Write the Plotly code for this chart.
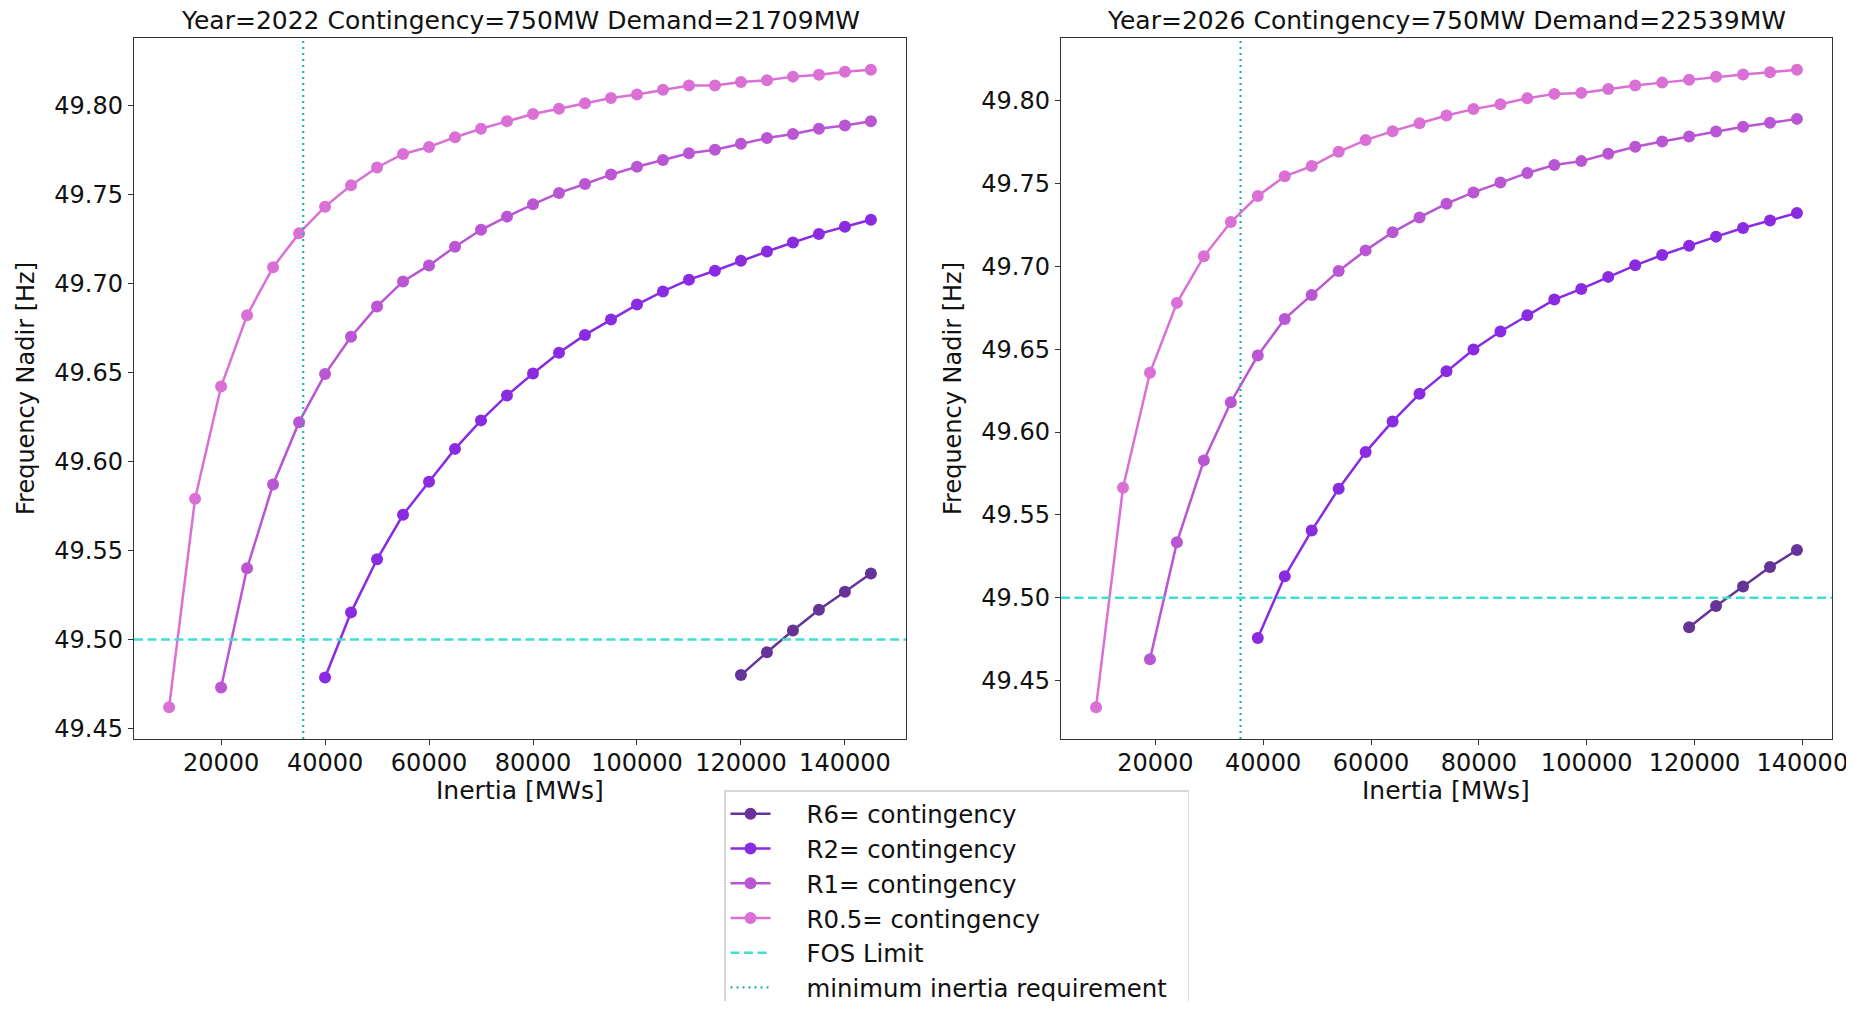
import plotly.graph_objects as go

# ---------------- data ----------------
inertia_2022 = [10000, 15000, 20000, 25000, 30000, 35000, 40000, 45000, 50000, 55000,
                60000, 65000, 70000, 75000, 80000, 85000, 90000, 95000, 100000, 105000,
                110000, 115000, 120000, 125000, 130000, 135000, 140000, 145000]
r05_2022 = [49.462, 49.579, 49.642, 49.682, 49.709, 49.728, 49.743, 49.755, 49.765, 49.7726,
            49.7765, 49.782, 49.7867, 49.791, 49.795, 49.798, 49.801, 49.804, 49.806, 49.8086,
            49.811, 49.811, 49.813, 49.814, 49.816, 49.817, 49.8187, 49.8198]
r1_2022 = [49.473, 49.540, 49.587, 49.622, 49.649, 49.670, 49.687, 49.701, 49.710, 49.7205,
           49.730, 49.7374, 49.7443, 49.7507, 49.7557, 49.761, 49.7654, 49.7692, 49.773, 49.775,
           49.7783, 49.7815, 49.7838, 49.7867, 49.7886, 49.791]
r2_2022 = [49.4786, 49.5152, 49.545, 49.570, 49.5886, 49.607, 49.623, 49.637, 49.6493, 49.661,
           49.671, 49.6796, 49.688, 49.6954, 49.702, 49.707, 49.7126, 49.7178, 49.7229, 49.7277,
           49.7317, 49.7356]
r6_2022 = [49.480, 49.4928, 49.505, 49.5167, 49.5268, 49.537]

inertia_2026 = [9000, 14000, 19000, 24000, 29000, 34000, 39000, 44000, 49000, 54000,
                59000, 64000, 69000, 74000, 79000, 84000, 89000, 94000, 99000, 104000,
                109000, 114000, 119000, 124000, 129000, 134000, 139000]
r05_2026 = [49.4339, 49.5664, 49.6358, 49.678, 49.7061, 49.7268, 49.7425, 49.7544, 49.7606, 49.7692,
            49.7763, 49.7817, 49.7865, 49.7911, 49.795, 49.798, 49.8016, 49.8042, 49.8048, 49.8072,
            49.8092, 49.811, 49.8127, 49.8145, 49.8159, 49.8173, 49.8187]
r1_2026 = [49.4628, 49.5334, 49.5829, 49.618, 49.6462, 49.6683, 49.6828, 49.6973, 49.7097, 49.7206,
           49.7296, 49.7379, 49.7447, 49.7507, 49.7564, 49.7612, 49.7636, 49.768, 49.7723, 49.7755,
           49.7785, 49.7815, 49.7843, 49.7867, 49.7891]
r2_2026 = [49.4757, 49.5129, 49.5405, 49.5658, 49.5879, 49.6064, 49.6231, 49.6367, 49.6498, 49.6607,
           49.6705, 49.68, 49.6864, 49.6937, 49.7007, 49.7069, 49.7125, 49.718, 49.7232, 49.7278,
           49.7323]
r6_2026 = [49.4821, 49.495, 49.5067, 49.5185, 49.5288]

fos_limit = 49.5
min_inertia = 35800

titles = ["Year=2022 Contingency=750MW Demand=21709MW",
          "Year=2026 Contingency=750MW Demand=22539MW"]
series_names = ["R6= contingency", "R2= contingency", "R1= contingency", "R0.5= contingency"]
line_names = ["FOS Limit", "minimum inertia requirement"]
colors = ["#663399", "#8A2BE2", "#BA55D3", "#DA70D6"]
x_ticks = [20000, 40000, 60000, 80000, 100000, 120000, 140000]
y_ticks = [49.45, 49.50, 49.55, 49.60, 49.65, 49.70, 49.75, 49.80]

# ---------------- figure ----------------
# the page body keeps its default 8px margin, so the figure is sized to fill the window exactly
OFF = 8
W, H = 1854 - 2 * OFF, 1009 - 2 * OFF
FONT = "DejaVu Sans"
PAD = "\u00a0\u00a0\u00a0\u00a0"
TAIL = "\u00a0\u00a0"


def px_x(p):
    return (p - OFF) / W


def px_y(p):
    return 1 - (p - OFF) / H


fig = go.Figure()

panels = [
    (inertia_2022, [r6_2022, r2_2022, r1_2022, r05_2022], "x", "y"),
    (inertia_2026, [r6_2026, r2_2026, r1_2026, r05_2026], "x2", "y2"),
]
ranges = []
for pi, (xs, ys_list, xa, ya) in enumerate(panels):
    allx, ally = [], []
    for si, ys in enumerate(ys_list):
        xx = xs[len(xs) - len(ys):]
        allx += xx
        ally += ys
        fig.add_trace(go.Scatter(
            x=xx, y=ys, mode="lines+markers", name=PAD + series_names[si],
            line=dict(color=colors[si], width=2.5),
            marker=dict(color=colors[si], size=12),
            xaxis=xa, yaxis=ya, showlegend=(pi == 0)))
    xmn, xmx = min(allx), max(allx)
    ymn, ymx = min(ally), max(ally)
    dx, dy = (xmx - xmn) * 0.05, (ymx - ymn) * 0.05
    ranges.append(([xmn - dx, xmx + dx], [ymn - dy, ymx + dy]))
    fig.add_shape(type="line", xref=xa + " domain", yref=ya, x0=0, x1=1,
                  y0=fos_limit, y1=fos_limit,
                  line=dict(color="#40E0D0", width=2.5, dash="9px,4.5px"))
    fig.add_shape(type="line", xref=xa, yref=ya + " domain", x0=min_inertia, x1=min_inertia,
                  y0=0, y1=1, line=dict(color="#20B2AA", width=2.2, dash="2px,4px"))

# legend-only entries for the reference lines
fig.add_trace(go.Scatter(x=[None], y=[None], mode="lines", name=PAD + line_names[0],
                         line=dict(color="#40E0D0", width=2.5, dash="9px,4.5px")))
fig.add_trace(go.Scatter(x=[None], y=[None], mode="lines", name=PAD + line_names[1] + TAIL,
                         line=dict(color="#20B2AA", width=2.2, dash="2px,4px")))

doms_x = [[px_x(134), px_x(906)], [px_x(1061), px_x(1832)]]
dom_y = [px_y(739), px_y(38)]

axis_common = dict(showline=True, linecolor="#333", linewidth=1.3, mirror=True,
                   ticks="outside", ticklen=5, tickwidth=1.3, tickcolor="#333",
                   showgrid=False, zeroline=False, ticklabeloverflow="allow",
                   tickfont=dict(family=FONT, size=24, color="#111"))

layout_axes = {}
for i, (xr, yr) in enumerate(ranges):
    sx = "" if i == 0 else str(i + 1)
    layout_axes["xaxis" + sx] = dict(axis_common, domain=doms_x[i], range=xr,
                                     tickvals=x_ticks, tickformat="d",
                                     ticklabelstandoff=-3,
                                     anchor="y" + sx)
    layout_axes["yaxis" + sx] = dict(axis_common, domain=dom_y, range=yr,
                                     tickvals=y_ticks, tickformat=".2f",
                                     anchor="x" + sx)

annotations = []
for i in range(2):
    cx = (doms_x[i][0] + doms_x[i][1]) / 2
    annotations.append(dict(text=titles[i], x=cx, y=px_y(20), xref="paper", yref="paper",
                            xanchor="center", yanchor="middle", showarrow=False,
                            font=dict(family=FONT, size=25, color="#111")))
    annotations.append(dict(text="Inertia [MWs]", x=cx, y=px_y(790), xref="paper", yref="paper",
                            xanchor="center", yanchor="middle", showarrow=False,
                            font=dict(family=FONT, size=25, color="#111")))
ylab_x = [px_x(26), px_x(953)]
for i in range(2):
    annotations.append(dict(text="Frequency Nadir [Hz]", x=ylab_x[i], y=px_y(389),
                            xref="paper", yref="paper", xanchor="center", yanchor="middle",
                            textangle=-90, showarrow=False,
                            font=dict(family=FONT, size=24, color="#111")))

fig.update_layout(
    width=W, height=H,
    margin=dict(l=0, r=0, t=0, b=0, autoexpand=False),
    paper_bgcolor="white", plot_bgcolor="white",
    font=dict(family=FONT, size=24, color="#111"),
    annotations=annotations,
    showlegend=True,
    legend=dict(x=px_x(724), y=px_y(790), xanchor="left", yanchor="top",
                bgcolor="white", bordercolor="#d8d8d8", borderwidth=1.5,
                font=dict(family=FONT, size=24.4, color="#111"),
                itemwidth=40, tracegroupgap=0),
    **layout_axes,
)

fig.write_html("out.html", config={"displayModeBar": False})
